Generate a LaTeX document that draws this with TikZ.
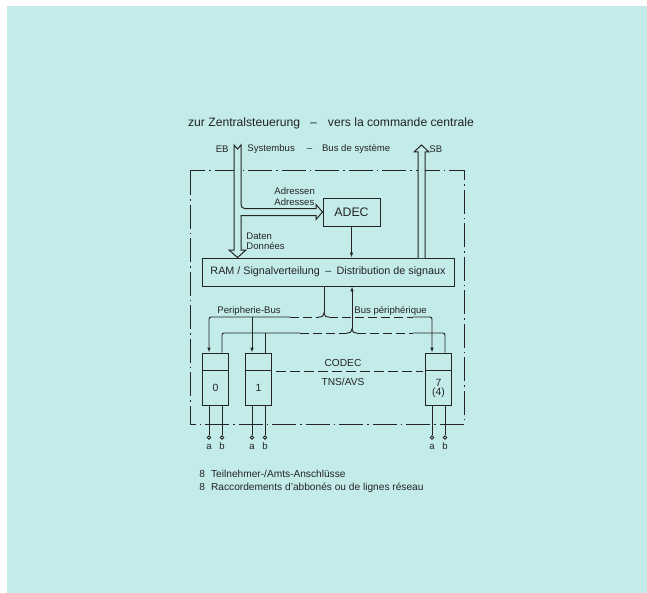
\documentclass[tikz,border=0pt]{standalone}
\usepackage{fontspec}
\setmainfont{Liberation Sans}
\usetikzlibrary{positioning,calc,arrows.meta}
\definecolor{paper}{RGB}{195,235,234}
\definecolor{ink}{RGB}{36,36,36}

\begin{document}
\begin{tikzpicture}[x=1bp, y=-1bp, color=ink, line width=0.95bp,
        >={Latex[length=5bp,width=3.6bp]}]
    \tikzstyle{box} = [draw, rectangle, inner sep=0pt]
    \tikzstyle{lbl} = [inner sep=0pt, font=\fontsize{9.6}{11}\selectfont]
    \tikzstyle{bus} = [fill=paper, line width=1bp]
    \tikzstyle{dashframe} = [line width=1bp, dash pattern=on 24bp off 4bp on 1.5bp off 4bp]
    \tikzstyle{wire} = [line width=0.95bp]
    \tikzstyle{dashedwire} = [wire, dash pattern=on 9bp off 4bp]
    \tikzstyle{terminal} = [circle, draw, fill=paper, inner sep=0pt, minimum size=3.4bp]

    \useasboundingbox (0,0) rectangle (647,593);
    \fill[white] (0,0) rectangle (647,593);
    \fill[paper] (7,6) rectangle (647,593);

    \node[inner sep=0pt, font=\fontsize{12.2}{14}\selectfont] (title) at (331,123)
        {zur Zentralsteuerung\hspace{10bp}–\hspace{11bp}vers la commande centrale};

    \draw[dashframe] (190,171) rectangle (464,424);

    \node[box, fill=paper, minimum width=57bp, minimum height=28bp,
        font=\fontsize{12.4}{14}\selectfont] (adec) at (351.5,212) {ADEC};
    \node[box, fill=paper, minimum width=252bp, minimum height=28bp,
        font=\fontsize{10.8}{12}\selectfont] (ram) at (328,272)
        {RAM / Signalverteilung\enspace–\enspace Distribution de signaux};

    % system bus
    \coordinate (eb) at (237.5,145);
    \coordinate (sb) at (421.5,145);
    \filldraw[bus] (234,145) -- (237.5,149) -- (241,145) -- (241,204)
        .. controls (241,206.5) and (242,208.5) .. (244.5,208.5) -- (316,208.5)
        -- (316,204.5) -- (adec.west) -- (316,219.5) -- (316,215.5) -- (241,215.5)
        -- (241,250) -- (246,250) -- (eb |- ram.north) -- (229,250) -- (234,250) -- cycle;
    \filldraw[bus] (418,258) -- (418,152) -- (414,152) -- (sb) -- (429,152)
        -- (425,152) -- (425,258);
    \draw[wire,->] (adec.south) -- (adec.south |- ram.north);

    \node[lbl, anchor=east] (eblbl) at (229,149) {EB};
    \node[lbl, anchor=west] (sblbl) at (429,149) {SB};
    \node[lbl, anchor=west] (sysbus) at (247,149)
        {Systembus\hspace{12bp}–\hspace{10bp}Bus de système};
    \node[lbl, anchor=west] (adrde) at (274,191) {Adressen};
    \node[lbl, anchor=west] (adrfr) at (274,202) {Adresses};
    \node[lbl, anchor=west] (datde) at (246,236) {Daten};
    \node[lbl, anchor=west] (datfr) at (246,246) {Données};

    % line modules
    \foreach \n/\x/\txt in {0/215.5/0, 1/258.5/1, 7/438.5/{7\\[-2pt](4)}} {
        \node[box, minimum width=26bp, minimum height=52bp] (m\n) at (\x,379) {};
        \draw[wire] ($(m\n.north west)+(0,18)$) -- ($(m\n.north east)+(0,18)$);
        \node[lbl, align=center, font=\fontsize{10.5}{11}\selectfont] (n\n) at (\x,388) {\txt};
        \node[terminal] (ta\n) at ($(m\n.south)+(-6.5,32)$) {};
        \node[terminal] (tb\n) at ($(m\n.south)+(6.5,32)$) {};
        \draw[wire] (ta\n.north |- m\n.south) -- (ta\n);
        \draw[wire] (tb\n.north |- m\n.south) -- (tb\n);
        \node[lbl, anchor=base] (la\n) at ($(ta\n)+(0,12)$) {a};
        \node[lbl, anchor=base] (lb\n) at ($(tb\n)+(0,12)$) {b};
    }

    \draw[dashedwire, dash pattern=on 10bp off 4bp] ($(m1.east)+(4,-8)$) -- ($(m7.west)+(-2,-8)$);
    \node[lbl, font=\fontsize{10.2}{11}\selectfont] (codec) at (343,363) {CODEC};
    \node[lbl, font=\fontsize{10.2}{11}\selectfont] (tns) at (343,382) {TNS/AVS};

    % peripheral bus, out of the RAM
    \coordinate (pout) at (324,317);
    \draw[wire] (ram.south -| pout) -- ($(pout)+(0,-4)$);
    \draw[wire] ($(pout)+(-5,0)$) .. controls ($(pout)+(-1.5,0)$) and ($(pout)+(0,-1.5)$) .. ($(pout)+(0,-4)$)
        .. controls ($(pout)+(0,-1.5)$) and ($(pout)+(1.5,0)$) .. ($(pout)+(5,0)$);
    \draw[wire,->,rounded corners=2bp] (290,317) -| ($(m0.north)+(-6.5,0)$);
    \draw[wire,->] ($(m1.north)+(-6.5,-36)$) -- ($(m1.north)+(-6.5,0)$);
    \draw[dashedwire] (290,317) -- ($(pout)+(-5,0)$);
    \draw[dashedwire] ($(pout)+(5,0)$) -- (413,317);
    \draw[wire,->,rounded corners=2bp] (413,317) -| ($(m7.north)+(-6.5,0)$);

    % peripheral bus, into the RAM
    \coordinate (pin) at (352,333);
    \draw[wire,rounded corners=2bp] ($(m0.north)+(6.5,0)$) |- (300,333);
    \draw[wire] ($(m1.north)+(6.5,0)$) -- ($(m1.north)+(6.5,-20)$);
    \draw[wire] ($(pin)+(-5,0)$) .. controls ($(pin)+(-1.5,0)$) and ($(pin)+(0,-1.5)$) .. ($(pin)+(0,-4)$)
        .. controls ($(pin)+(0,-1.5)$) and ($(pin)+(1.5,0)$) .. ($(pin)+(5,0)$);
    \draw[dashedwire] (300,333) -- ($(pin)+(-5,0)$);
    \draw[dashedwire] ($(pin)+(5,0)$) -- (413,333);
    \draw[wire,rounded corners=2bp] (413,333) -| ($(m7.north)+(6.5,0)$);
    \draw[wire,->] ($(pin)+(0,-4)$) -- (ram.south -| pin);

    \node[lbl, anchor=west] (pbde) at (217,311) {Peripherie-Bus};
    \node[lbl, anchor=west] (pbfr) at (354,311) {Bus périphérique};

    \node[lbl, anchor=base west, font=\fontsize{10.2}{12}\selectfont] (note1) at (199,477)
        {8\hspace{6bp}Teilnehmer-/Amts-Anschlüsse};
    \node[lbl, anchor=base west, font=\fontsize{10.2}{12}\selectfont] (note2) at (199,490)
        {8\hspace{6bp}Raccordements d'abbonés ou de lignes réseau};
\end{tikzpicture}
\end{document}
